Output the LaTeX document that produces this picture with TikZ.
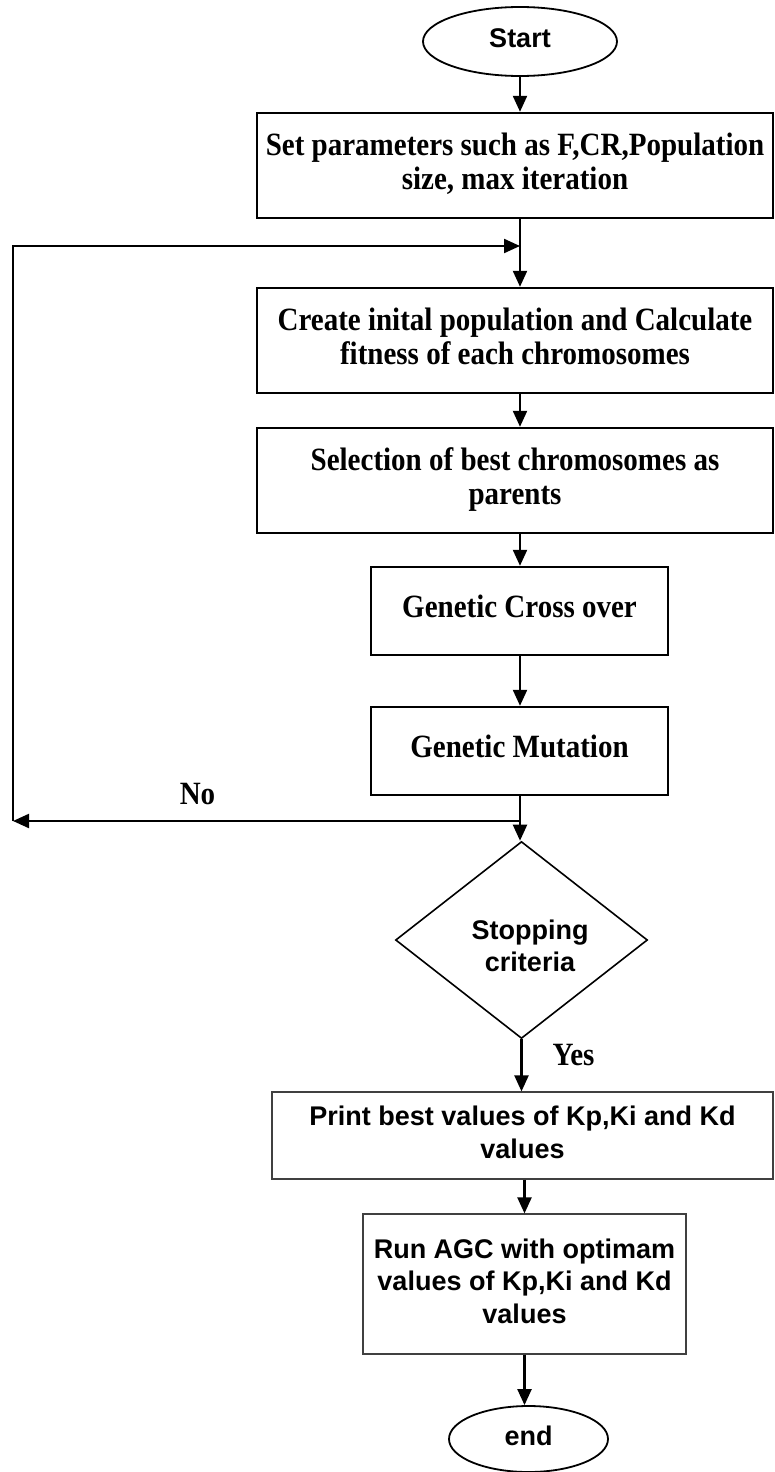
\documentclass[tikz,border=0pt]{standalone}
\usepackage{fontspec}
\usepackage{graphicx}
\setmainfont{Liberation Serif}
\newfontfamily\arl{Liberation Sans}
\usetikzlibrary{shapes.geometric,arrows.meta}
\newcommand\tmtext[1]{{\fontsize{29}{30.4}\selectfont\bfseries\scalebox{1}[1.12]{\begin{tabular}{@{}c@{}}#1\end{tabular}}}}
\newcommand\artext[1]{{\arl\fontsize{27}{32.5}\selectfont\bfseries\begin{tabular}{@{}c@{}}#1\end{tabular}}}
\begin{document}
\begin{tikzpicture}[x=1pt,y=-1pt,
 thickbox/.style={draw,line width=2.4pt,inner sep=0pt,rectangle},
 thinbox/.style={draw=black!75,line width=1.2pt,inner sep=0pt,rectangle},
 term/.style={draw,ellipse,line width=1.8pt,inner sep=0pt},
 conn/.style={line width=2.2pt,-{Triangle[length=16pt,width=14pt]}},
 plain/.style={line width=2.2pt},
 lbl/.style={inner sep=0pt}
 ]
\useasboundingbox (0,0) rectangle (774,1472);
\fill[white] (0,0) rectangle (774,1472);

\node[term, minimum width=194pt, minimum height=69pt] (start) at (520,41.5) {\artext{Start}};
\node[thickbox, minimum width=516pt, minimum height=105pt] (b1) at (515,165.5) {\tmtext{Set parameters such as F,CR,Population\\size, max iteration}};
\node[thickbox, minimum width=516pt, minimum height=105pt] (b2) at (515,340.5) {\tmtext{Create inital population and Calculate\\fitness of each chromosomes}};
\node[thickbox, minimum width=516pt, minimum height=105pt] (b3) at (515,480.5) {\tmtext{Selection of best chromosomes as\\parents}};
\node[thickbox, minimum width=297pt, minimum height=88pt] (b4) at (519.5,611) {\tmtext{Genetic Cross over}};
\node[thickbox, minimum width=297pt, minimum height=88pt] (b5) at (519.5,751) {\tmtext{Genetic Mutation}};
\node[draw, diamond, line width=1.6pt, minimum width=252pt, minimum height=197pt, inner sep=0pt] (dec) at (521.5,940) {};
\node[lbl] (dectext) at (530,949) {\artext{Stopping\\criteria}};
\node[thinbox, minimum width=501pt, minimum height=87pt] (b6) at (522.5,1135.5) {\artext{Print best values of Kp,Ki and Kd\\values}};
\node[thinbox, minimum width=323pt, minimum height=140pt] (b7) at (524.5,1284) {\artext{Run AGC with optimam\\values of Kp,Ki and Kd\\values}};
\node[term, minimum width=159pt, minimum height=66pt] (end) at (528.5,1439) {\artext{end}};

\node[lbl] (no) at (197.5,798) {\tmtext{No}};
\node[lbl] (yes) at (573.5,1059) {\tmtext{Yes}};

\coordinate (j1) at (520,246);
\coordinate (j2) at (520,821);
\coordinate (cTL) at (13,246);
\coordinate (cBL) at (13,821);

\draw[conn] (start.south) -- (start.south |- b1.north);
\draw[conn] (b1.south -| j1) -- (b2.north -| j1);
\draw[conn] (cBL) -- (cTL) -- (j1);
\draw[conn] (b2.south -| j1) -- (b3.north -| j1);
\draw[conn] (b3.south -| j1) -- (b4.north -| j1);
\draw[conn] (b4.south -| j1) -- (b5.north -| j1);
\draw[plain] (b5.south -| j1) -- (j2);
\draw[conn] (j2) -- (cBL);
\draw[conn] (j2) -- (j2 |- dec.north);
\draw[conn] (dec.south) -- (dec.south |- b6.north);
\draw[conn] (b6.south -| b7.north) -- (b7.north);
\draw[conn] (b7.south) -- (b7.south |- end.north);
\end{tikzpicture}
\end{document}
